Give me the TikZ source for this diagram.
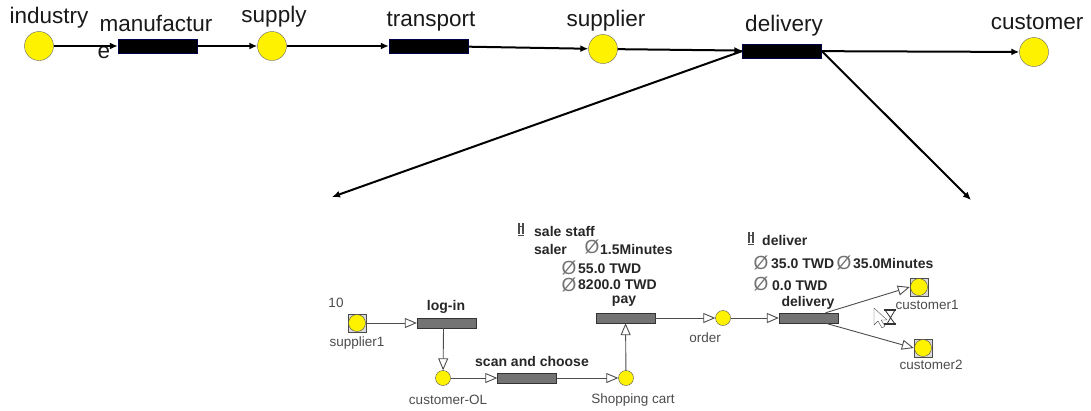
\documentclass[tikz,border=0pt]{standalone}
\usepackage{fontspec}
\setmainfont{Liberation Sans}
\usepackage{tikz}
\usetikzlibrary{arrows,arrows.meta,calc}

\begin{document}
\begin{tikzpicture}[x=1pt,y=-1pt]
             \tikzstyle{place}=[circle,draw=black!60,fill=yellow,inner sep=0pt,minimum size=29pt]
             \tikzstyle{task}=[draw=blue!30!black,fill=black,inner sep=0pt,minimum width=79pt,minimum height=14pt]
             \tikzstyle{biglabel}=[inner sep=0pt,font=\fontsize{22.5}{23}\selectfont,text=black!90]
             \tikzstyle{flow}=[-{Latex[length=8pt,width=7pt]},line width=2pt]
             \tikzstyle{smallplace}=[circle,draw=black!70,fill=yellow,inner sep=0pt,minimum size=15pt]
             \tikzstyle{endplace}=[circle,draw=black!70,fill=yellow,inner sep=0pt,minimum size=17pt]
             \tikzstyle{endbox}=[draw=black!70,fill=black!15,inner sep=0pt,minimum size=18pt]
             \tikzstyle{smalltask}=[draw=black!80,fill=black!55,inner sep=0pt,minimum width=59pt,minimum height=10pt]
             \tikzstyle{smalllabel}=[inner sep=0pt,font=\fontsize{13.5}{14}\selectfont,text=black!70]
             \tikzstyle{boldlabel}=[inner sep=0pt,font=\fontsize{14}{14}\selectfont\bfseries,text=black!85]
             \tikzstyle{nought}=[inner sep=0pt,font=\fontsize{19}{19}\selectfont,text=black!55]
             \tikzstyle{link}=[draw=black!70,line width=0.9pt,-{Triangle[open,fill=white,length=12pt,width=10pt]}]
             \useasboundingbox (0,0) rectangle (1091,410);
             % top row
             \node [place] (industry) at (39,46) {};
             \node [task] (manufacture) at (157.5,46) {};
             \node [place] (supply) at (272,46) {};
             \node [task] (transport) at (428.5,46) {};
             \node [place] (supplier) at (603,49) {};
             \node [task] (delivery) at (782,51) {};
             \node [place] (customer) at (1034,52) {};
             \node [biglabel] (industrylabel) at (49,18) {industry};
             \node [biglabel] (manufacturelabel) at (156,23) {manufactur};
             \node [biglabel] (manufacturetail) at (104,53) {e};
             \node [biglabel] (supplylabel) at (274,17) {supply};
             \node [biglabel] (transportlabel) at (431,22) {transport};
             \node [biglabel] (supplierlabel) at (606,21) {supplier};
             \node [biglabel] (deliverylabel) at (784,26) {delivery};
             \node [biglabel] (customerlabel) at (1037,22) {customer};
             \draw [flow] (industry) -- (manufacture);
             \draw [flow] (manufacture) -- (supply);
             \draw [flow] (supply) -- (transport);
             \draw [flow] (transport) -- (supplier);
             \draw [flow] (supplier) -- (delivery);
             \draw [flow] (delivery) -- (customer);
             \coordinate (zoomleft) at (332,197);
             \coordinate (zoomright) at (971,200);
             \draw [flow] (delivery.west) -- (zoomleft);
             \draw [flow] (delivery.east) -- (zoomright);
             % lower net
             \node [endbox] (supplierbox) at (357,323) {};
             \node [endplace] (supplier1) at (357,323) {};
             \node [smalltask] (login) at (446.5,323) {};
             \node [smallplace] (customerOL) at (443,378) {};
             \node [smalltask] (scan) at (527,378) {};
             \node [smallplace] (cart) at (626,378) {};
             \node [smalltask] (pay) at (625.5,318) {};
             \node [smallplace] (order) at (723,318) {};
             \node [smalltask] (shipping) at (808.5,318) {};
             \node [endbox] (cust1box) at (919,287) {};
             \node [endplace] (cust1) at (919,287) {};
             \node [endbox] (cust2box) at (923,348) {};
             \node [endplace] (cust2) at (923,348) {};
             \draw [link] (supplierbox) -- (login);
             \draw [link] (login.south) ++ (-3pt,0) -- (customerOL);
             \draw [link] (customerOL) -- (scan);
             \draw [link] (scan) -- (cart);
             \draw [link] (cart) -- (pay);
             \draw [link] (pay) -- (order);
             \draw [link] (order) -- (shipping);
             \draw [link] (shipping.17) -- (cust1box.west);
             \draw [link] (shipping.-17) -- (cust2box.west);
             % texts
             \node [smalllabel] (ten) at (336,303) {10};
             \node [smalllabel] (supplier1label) at (357,343) {supplier1};
             \node [smalllabel] (customerOLlabel) at (448,400) {customer-OL};
             \node [smalllabel] (cartlabel) at (633,400) {Shopping cart};
             \node [smalllabel] (orderlabel) at (705,338) {order};
             \node [smalllabel] (cust1label) at (927,305) {customer1};
             \node [smalllabel] (cust2label) at (931,365) {customer2};
             \node [boldlabel] (loginlabel) at (446,307) {log-in};
             \node [boldlabel] (scanlabel) at (532,361) {scan and choose};
             \node [boldlabel] (paylabel) at (624,301) {pay};
             \node [boldlabel] (shippinglabel) at (808,303) {delivery};
             \node [boldlabel,anchor=west] (staff) at (534,231) {sale staff};
             \node [boldlabel,anchor=west] (saler) at (534,249) {saler};
             \node [boldlabel,anchor=west] (paytime) at (600,249) {1.5Minutes};
             \node [boldlabel,anchor=west] (paycost) at (578,269) {55.0 TWD};
             \node [boldlabel,anchor=west] (payprice) at (578,285) {8200.0 TWD};
             \node [boldlabel,anchor=west] (deliver) at (762,240) {deliver};
             \node [boldlabel,anchor=west] (delcost) at (771,264) {35.0 TWD};
             \node [boldlabel,anchor=west] (deltime) at (853,264) {35.0Minutes};
             \node [boldlabel,anchor=west] (delzero) at (772,286) {0.0 TWD};
             \node [nought] (n1) at (592,247) {Ø};
             \node [nought] (n2) at (569,268) {Ø};
             \node [nought] (n3) at (569,285) {Ø};
             \node [nought] (n4) at (761,263) {Ø};
             \node [nought] (n5) at (844,263) {Ø};
             \node [nought] (n6) at (761,284) {Ø};
             % staff icons
             \foreach \ix/\iy in {521/229,751/238} {
               \draw [black!70,line width=1.5pt] (\ix-2,\iy-6) -- (\ix-2,\iy+5) (\ix+2,\iy-6) -- (\ix+2,\iy+5);
               \draw [black!70,line width=0.8pt] (\ix-3,\iy+6) -- (\ix+3,\iy+6) (\ix-3,\iy-3) -- (\ix+3,\iy-3);
             }
             % cursor and hourglass
             \draw [black!70,fill=white,line join=round] (874,308) -- (874,325) -- (878,321) -- (882,328) -- (885,326) -- (881,320) -- (887,320) -- cycle;
             \draw [black!80,fill=white,line width=0.8pt] (885,310) -- (895,310) -- (887,324) -- (895,324) -- cycle;
             \draw [black!80,line width=1.2pt] (884,310) -- (896,310) (884,324) -- (896,324);
         \end{tikzpicture}
\end{document}
